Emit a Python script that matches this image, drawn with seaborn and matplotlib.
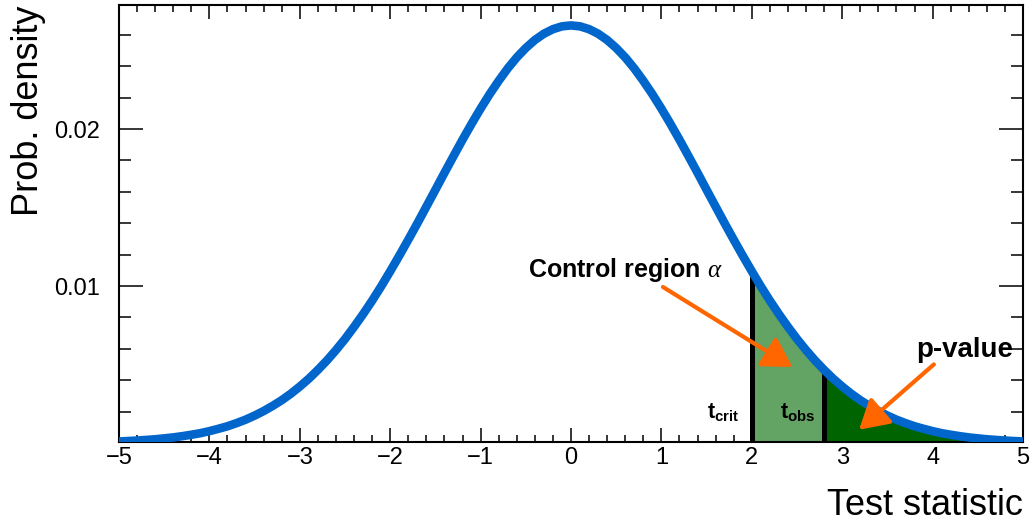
import numpy as np
import matplotlib
matplotlib.use("Agg")
import matplotlib.pyplot as plt
from matplotlib.ticker import MultipleLocator, FixedLocator, FixedFormatter
import seaborn as sns

# ---- data -------------------------------------------------------------
test_stat = np.round(np.linspace(-5.0, 5.0, 101), 1)
density = [
    0.00010, 0.00013, 0.00016, 0.00020, 0.00024, 0.00030, 0.00036, 0.00044,
    0.00053, 0.00063, 0.00076, 0.00091, 0.00107, 0.00127, 0.00149, 0.00175,
    0.00204, 0.00237, 0.00273, 0.00314, 0.00360, 0.00410, 0.00466, 0.00526,
    0.00592, 0.00663, 0.00740, 0.00821, 0.00907, 0.00998, 0.01094, 0.01193,
    0.01295, 0.01399, 0.01506, 0.01613, 0.01721, 0.01827, 0.01932, 0.02033,
    0.02130, 0.02222, 0.02307, 0.02386, 0.02456, 0.02516, 0.02567, 0.02607,
    0.02636, 0.02654, 0.02660, 0.02654, 0.02636, 0.02607, 0.02567, 0.02516,
    0.02456, 0.02386, 0.02307, 0.02222, 0.02130, 0.02033, 0.01932, 0.01827,
    0.01721, 0.01613, 0.01506, 0.01399, 0.01295, 0.01193, 0.01094, 0.00998,
    0.00907, 0.00821, 0.00740, 0.00663, 0.00592, 0.00526, 0.00466, 0.00410,
    0.00360, 0.00314, 0.00273, 0.00237, 0.00204, 0.00175, 0.00149, 0.00127,
    0.00107, 0.00091, 0.00076, 0.00063, 0.00053, 0.00044, 0.00036, 0.00030,
    0.00024, 0.00020, 0.00016, 0.00013, 0.00010,
]
t_crit = 2.0
t_obs = 2.8
x_ticks = [-5, -4, -3, -2, -1, 0, 1, 2, 3, 4, 5]
y_ticks = [0.01, 0.02]
y_tick_labels = ["0.01", "0.02"]

# ---- style ------------------------------------------------------------
sns.set_theme(style="ticks")
plt.rcParams["font.family"] = ["Liberation Sans", "DejaVu Sans"]
plt.rcParams["text.color"] = "black"
plt.rcParams["mathtext.fontset"] = "custom"
plt.rcParams["mathtext.rm"] = "Liberation Sans"
plt.rcParams["mathtext.bf"] = "Liberation Sans:bold"
plt.rcParams["mathtext.it"] = "Liberation Serif:italic"

BLUE = "#0066cc"
LIGHT_GREEN = "#63a363"
DARK_GREEN = "#006400"
ORANGE = "#ff6600"

W, H = 1035, 521
fig = plt.figure(figsize=(W / 100, H / 100), dpi=100)
ax = fig.add_axes([119 / W, 1 - 441.5 / H, (1023 - 119) / W, (441.5 - 5) / H])
ax.set_facecolor("white")

x = np.asarray(test_stat)
y = np.asarray(density)
eps = 1e-9

# shaded tail regions
ax.fill_between(x, 0, y, where=(x >= t_crit - eps) & (x <= t_obs + eps),
                color=LIGHT_GREEN, linewidth=0, zorder=1)
ax.fill_between(x, 0, y, where=(x >= t_obs - eps),
                color=DARK_GREEN, linewidth=0, zorder=1)

# threshold markers from the axis up to the curve
for t in (t_crit, t_obs):
    ax.plot([t, t], [0, y[np.argmin(np.abs(x - t))]], color="black",
            lw=3.6, zorder=2, solid_capstyle="butt")

# density curve
sns.lineplot(x=x, y=y, color=BLUE, lw=6.2, ax=ax, zorder=3)
ax.lines[-1].set_solid_joinstyle("round")
ax.lines[-1].set_solid_capstyle("butt")

ax.set_xlim(-5, 5)
ax.set_ylim(0.0001, 0.0279)

# ---- axes frame and ticks ----------------------------------------------
for s in ax.spines.values():
    s.set_visible(True)
    s.set_linewidth(1.5)
    s.set_color("black")

ax.xaxis.set_major_locator(FixedLocator(x_ticks))
ax.xaxis.set_minor_locator(MultipleLocator(0.2))
ax.yaxis.set_major_locator(FixedLocator(y_ticks))
ax.yaxis.set_major_formatter(FixedFormatter(y_tick_labels))
ax.yaxis.set_minor_locator(MultipleLocator(0.002))

ax.tick_params(axis="x", which="major", direction="in", length=10, width=1.1,
               top=True, bottom=True, labelsize=17, pad=4, colors="black")
ax.tick_params(axis="x", which="minor", direction="in", length=5, width=1.1,
               top=True, bottom=True, colors="black")
ax.tick_params(axis="y", which="major", direction="in", length=17, width=1.1,
               left=True, right=True, labelsize=17, pad=14, colors="black")
ax.tick_params(axis="y", which="minor", direction="in", length=8.6, width=1.1,
               left=True, right=True, colors="black")
ax.set_xlabel("")
ax.set_ylabel("")

# axis titles
fig.text(1023 / W, 1 - 515 / H, "Test statistic", ha="right", va="baseline",
         fontsize=26, color="black")
fig.text(29 / W, 1 - 5 / H, "Prob. density", rotation=90, ha="center",
         va="top", fontsize=26, color="black")

# ---- annotations -------------------------------------------------------
ax.text(-0.48, 0.01055, r"Control region $\alpha$", fontsize=18,
        fontweight="bold", ha="left", va="baseline", zorder=5)
ax.text(3.815, 0.00546, "p-value", fontsize=20, fontweight="bold",
        ha="left", va="baseline", zorder=5)
ax.text(1.508, 0.00157, r"$\mathbf{t}_{\mathbf{crit}}$", fontsize=15.5,
        ha="left", va="baseline", zorder=5)
ax.text(2.316, 0.00157, r"$\mathbf{t}_{\mathbf{obs}}$", fontsize=15.5,
        ha="left", va="baseline", zorder=5)

arrow_style = "-|>,head_length=1.76,head_width=1.03"
for start, end in [((1.017, 0.00994), (2.449, 0.00484)),
                   ((4.014, 0.00501), (3.187, 0.00085))]:
    ax.annotate("", xy=end, xytext=start,
                arrowprops=dict(arrowstyle=arrow_style, mutation_scale=10,
                                color=ORANGE, lw=3, shrinkA=0, shrinkB=0),
                zorder=4)

fig.savefig("out.png", dpi=100, facecolor="white")
